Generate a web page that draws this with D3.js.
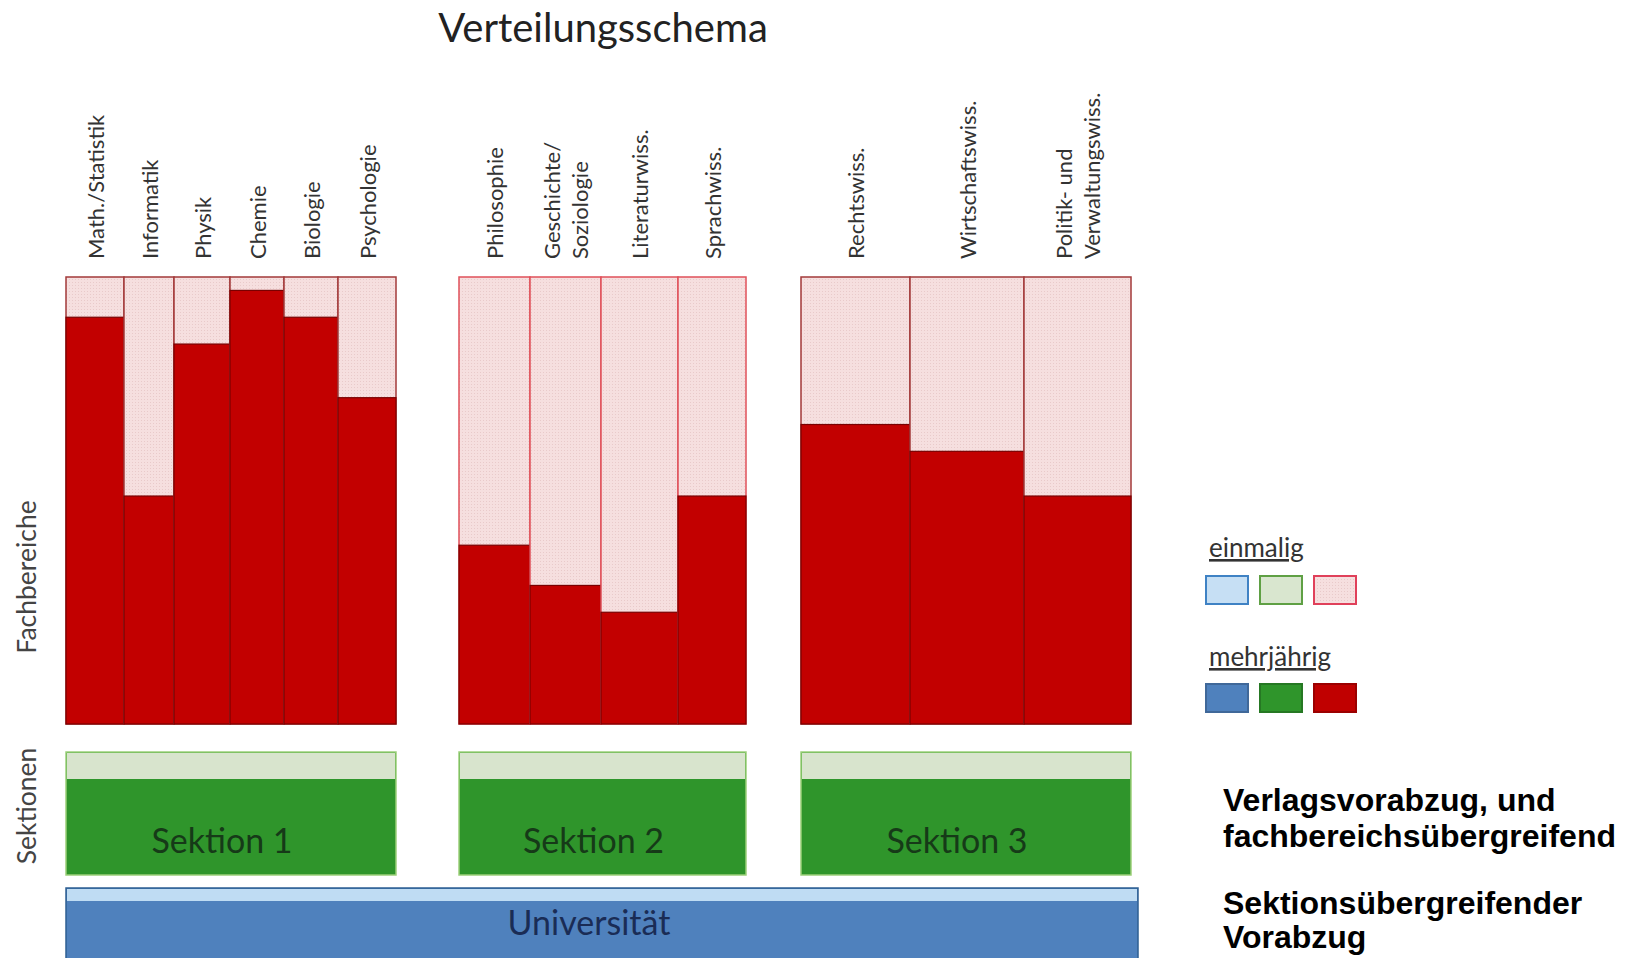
<!DOCTYPE html>
<html>
<head>
<meta charset="utf-8">
<script src="https://cdn.jsdelivr.net/npm/d3@7"></script>
<style>
  body { margin: 0; background: #fff; }
  svg text { font-family: Lato, 'Open Sans', sans-serif; }
</style>
</head>
<body>
<figure id="schema" style="margin:0"></figure>
<script>
// Fachbereiche (one column per subject), grouped by Sektion
const kategorien = [
  'Math./Statistik', 'Informatik', 'Physik', 'Chemie', 'Biologie', 'Psychologie',
  'Philosophie', 'Geschichte/|Soziologie', 'Literaturwiss.', 'Sprachwiss.',
  'Rechtswiss.', 'Wirtschaftswiss.', 'Politik- und|Verwaltungswiss.'
];
const sektionVon = [0, 0, 0, 0, 0, 0, 1, 1, 1, 1, 2, 2, 2];
// relative width of each column
const gewicht = [58, 50, 56, 54, 54, 58, 71, 71, 77, 68, 109, 114, 107];
// share "mehrjährig" in percent, rest is "einmalig"
const mehrjaehrig = [91, 51, 85, 97, 91, 73, 40, 31, 25, 51, 67, 61, 51];
const sektionen = ['Sektion 1', 'Sektion 2', 'Sektion 3'];
const legendeFarbenHell = ['#c6dff4', '#d9e6cf', 'pink'];
const legendeFarbenDunkel = ['#4f81bd', '#2f952b', '#c00000'];

const width = 1635, height = 958;
const gap = [0, 63, 55]; // space before each Sektion

const svg = d3.select('figure#schema')
  .append('svg')
  .attr('width', width)
  .attr('height', height);

// dotted texture for the light red cells
const defs = svg.append('defs');
const pat = defs.append('pattern')
  .attr('id', 'dots')
  .attr('width', 3).attr('height', 3)
  .attr('patternUnits', 'userSpaceOnUse');
pat.append('rect').attr('width', 3).attr('height', 3).attr('fill', '#f6dfdf');
pat.append('rect').attr('width', 1).attr('height', 1).attr('fill', '#e9caca');

// cumulative positions in width units
let pos = 0;
const spalten = kategorien.map((k, i) => {
  if (i > 0 && sektionVon[i] !== sektionVon[i - 1]) pos += gap[sektionVon[i]];
  const s = { name: k, sek: sektionVon[i], x0: pos, x1: pos + gewicht[i], v: mehrjaehrig[i] };
  pos += gewicht[i];
  return s;
});

const x = d3.scaleLinear().domain([0, pos]).range([66, 1131]);
const y = d3.scaleLinear().domain([0, 100]).range([724, 277]);

svg.append('text')
  .attr('x', 603).attr('y', 42)
  .attr('text-anchor', 'middle')
  .style('font-size', '40px')
  .attr('fill', '#222')
  .text('Verteilungsschema');

// columns
const col = svg.append('g').selectAll('g')
  .data(spalten)
  .enter()
  .append('g');

col.append('rect')
  .attr('x', (d) => x(d.x0))
  .attr('y', y(100))
  .attr('width', (d) => x(d.x1) - x(d.x0))
  .attr('height', y(0) - y(100))
  .attr('fill', 'url(#dots)')
  .attr('stroke', (d) => d.sek === 1 ? '#e0505a' : '#a33a3a')
  .attr('stroke-width', 1.5);

col.append('rect')
  .attr('x', (d) => x(d.x0))
  .attr('y', (d) => y(d.v))
  .attr('width', (d) => x(d.x1) - x(d.x0))
  .attr('height', (d) => y(0) - y(d.v))
  .attr('fill', '#c20000')
  .attr('stroke', '#7a0000')
  .attr('stroke-width', 1.2);

// rotated subject labels
col.append('text')
  .attr('transform', (d) => 'translate(' + ((x(d.x0) + x(d.x1)) / 2 + 1) + ',259)rotate(-90)')
  .attr('text-anchor', 'start')
  .style('font-size', '22px')
  .attr('fill', '#333')
  .each(function (d) {
    const lines = d.name.split('|');
    const t = d3.select(this);
    lines.forEach((l, j) => {
      const off = (j - (lines.length - 1) / 2) * 28;
      t.append('tspan').attr('x', 0).attr('y', off).attr('dy', '0.35em').text(l);
    });
  });

// Sektionen boxes
const sekBox = sektionen.map((s, i) => {
  const cs = spalten.filter((c) => c.sek === i);
  return { name: s, x0: cs[0].x0, x1: cs[cs.length - 1].x1 };
});

const sg = svg.append('g').selectAll('g').data(sekBox).enter().append('g');
sg.append('rect')
  .attr('x', (d) => x(d.x0)).attr('y', 752)
  .attr('width', (d) => x(d.x1) - x(d.x0)).attr('height', 123)
  .attr('fill', '#2f952b')
  .attr('stroke', '#9ccf7a').attr('stroke-width', 1.5);
sg.append('rect')
  .attr('x', (d) => x(d.x0) + 1).attr('y', 753)
  .attr('width', (d) => x(d.x1) - x(d.x0) - 2).attr('height', 26)
  .attr('fill', '#d8e4cd');
sg.append('text')
  .attr('x', (d) => (x(d.x0) + x(d.x1)) / 2 - 9)
  .attr('y', 853)
  .attr('text-anchor', 'middle')
  .style('font-size', '34px')
  .attr('fill', '#163a18')
  .text((d) => d.name);

// Universität
const uni = svg.append('g');
uni.append('rect')
  .attr('x', x(0)).attr('y', 888)
  .attr('width', x(pos) - x(0) + 7).attr('height', 72)
  .attr('fill', '#4f81bd')
  .attr('stroke', '#2e5f92').attr('stroke-width', 1.5);
uni.append('rect')
  .attr('x', x(0) + 1).attr('y', 889)
  .attr('width', x(pos) - x(0) + 5).attr('height', 12)
  .attr('fill', '#bfdcf3');
uni.append('text')
  .attr('x', (x(0) + x(pos) + 7) / 2 - 13)
  .attr('y', 935)
  .attr('text-anchor', 'middle')
  .style('font-size', '34px')
  .attr('fill', '#1a2c55')
  .text('Universität');

// axis titles
svg.append('text')
  .attr('transform', 'translate(27,577)rotate(-90)')
  .attr('text-anchor', 'middle').attr('dy', '0.35em')
  .style('font-size', '26.5px').attr('fill', '#444')
  .text('Fachbereiche');
svg.append('text')
  .attr('transform', 'translate(27,806)rotate(-90)')
  .attr('text-anchor', 'middle').attr('dy', '0.35em')
  .style('font-size', '26.5px').attr('fill', '#444')
  .text('Sektionen');

// legend
const leg = svg.append('g');
[['einmalig', 557, 576, legendeFarbenHell], ['mehrjährig', 666, 684, legendeFarbenDunkel]].forEach((r) => {
  leg.append('text')
    .attr('x', 1209).attr('y', r[1])
    .style('font-size', '26px')
    .style('text-decoration', 'underline')
    .attr('fill', '#333')
    .text(r[0]);
  leg.selectAll(null)
    .data(r[3])
    .enter()
    .append('rect')
    .attr('x', (d, i) => 1206 + i * 54)
    .attr('y', r[2])
    .attr('width', 42).attr('height', 28)
    .attr('fill', (d) => d === 'pink' ? 'url(#dots)' : d)
    .attr('stroke', (d, i) => r[0] === 'einmalig' ? ['#3f82c4', '#5fa044', '#e0405a'][i] : d3.color(d).darker(0.6))
    .attr('stroke-width', 2);
});

// notes on the right
const notes = [['Verlagsvorabzug, und', 811], ['fachbereichsübergreifend', 847], ['Sektionsübergreifender', 914], ['Vorabzug', 948]];
svg.append('g').selectAll('text')
  .data(notes)
  .enter()
  .append('text')
  .attr('x', 1223)
  .attr('y', (d) => d[1])
  .style('font-family', "'Liberation Sans', Arial, sans-serif")
  .style('font-weight', 'bold')
  .style('font-size', '32px')
  .attr('fill', '#000')
  .text((d) => d[0]);
</script>
</body>
</html>
